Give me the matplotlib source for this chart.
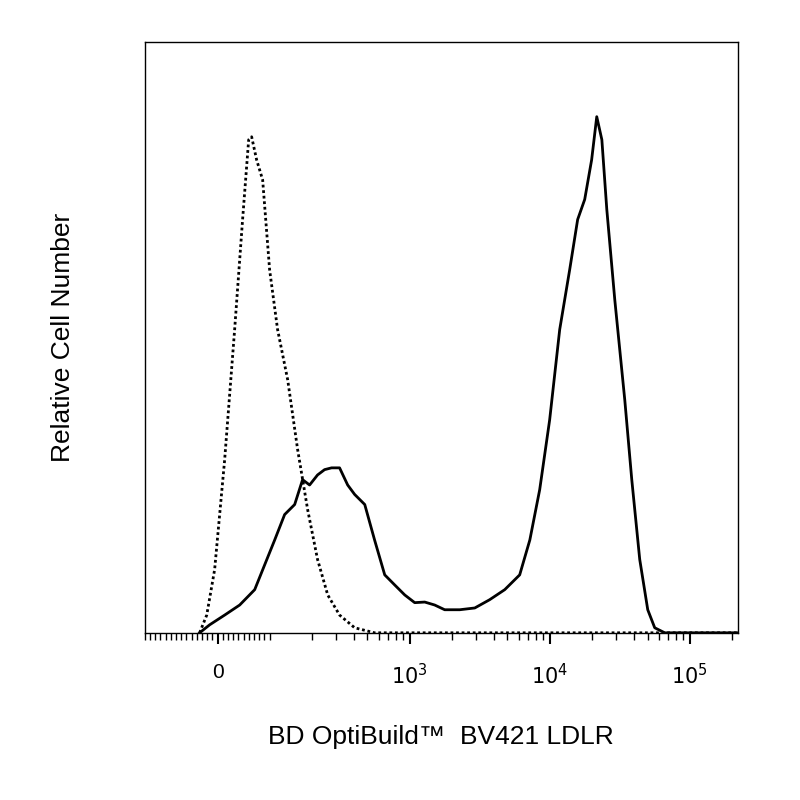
import matplotlib
matplotlib.use("Agg")
import matplotlib.pyplot as plt
import numpy as np
from matplotlib.ticker import FixedLocator, FixedFormatter

plt.rcParams['font.family'] = ['Liberation Sans', 'DejaVu Sans']

solid_x = [-34.7, -15.4, 13.5, 42.4, 71.3, 90.5, 108.7, 128, 151, 172, 193, 220, 247, 277, 316, 361, 405, 478, 562, 664, 782, 923, 1087, 1282, 1510, 1780, 2280, 2920, 3730, 4780, 6110, 7220, 8490, 10000, 11800, 13900, 15850, 17800, 19950, 21700, 23600, 25600, 29200, 34400, 38600, 44000, 50200, 56300, 66400, 220000]
solid_y = [0, 1.35, 3.0, 4.7, 7.3, 11.5, 15.7, 20, 21.7, 25.9, 25, 26.7, 27.6, 27.9, 27.9, 25, 23.4, 21.7, 15.7, 9.8, 8.1, 6.4, 5.1, 5.2, 4.7, 3.9, 3.9, 4.2, 5.6, 7.3, 9.8, 15.7, 24.2, 36, 51.3, 61.4, 69.9, 73.3, 80, 87.3, 83.4, 71.6, 56.3, 39.4, 25.9, 12.4, 3.9, 0.85, 0, 0]
dot_x = [-34.7, -21, -5.8, 13.5, 32.7, 48, 59.7, 65.4, 75, 86.6, 100, 114, 134.6, 158.5, 187, 220, 260, 316, 405, 562, 220000]
dot_y = [0, 3, 10.7, 29.3, 51.3, 69.9, 83.4, 83.9, 80, 76.6, 61.4, 51.3, 42.8, 31, 20.8, 12.4, 6.4, 3, 0.85, 0, 0]

fig = plt.figure(figsize=(8, 8), dpi=100)
ax = fig.add_axes([0.181, 0.209, 0.741, 0.739])
ax.set_xscale('symlog', linthresh=100, linscale=0.334)
ax.plot(solid_x, solid_y, color='black', lw=2)
ax.plot(dot_x, dot_y, color='black', lw=2, linestyle=(0, (1, 1)))
ax.set_xlim(-141, 220000)
ax.set_ylim(0, 100)
ax.set_yticks([])

ax.xaxis.set_major_locator(FixedLocator([0, 1000, 10000, 100000]))
ax.xaxis.set_major_formatter(FixedFormatter(['0', '$10^3$', '$10^4$', '$10^5$']))
minors = list(range(-140, 101, 10)) + [m * 10**e for e in (2, 3, 4, 5) for m in range(2, 10) if m * 10**e < 220000]
ax.xaxis.set_minor_locator(FixedLocator(minors))
ax.tick_params(axis='x', which='major', direction='out', length=8, width=1.5, labelsize=15, pad=14)
ax.tick_params(axis='x', which='minor', direction='out', length=5, width=1)
for s in ax.spines.values():
    s.set_linewidth(1)

ax.set_xlabel('BD OptiBuild™  BV421 LDLR', fontsize=19, labelpad=26)
ax.set_ylabel('Relative Cell Number', fontsize=19, labelpad=50)
fig.savefig('out.png', dpi=100)
